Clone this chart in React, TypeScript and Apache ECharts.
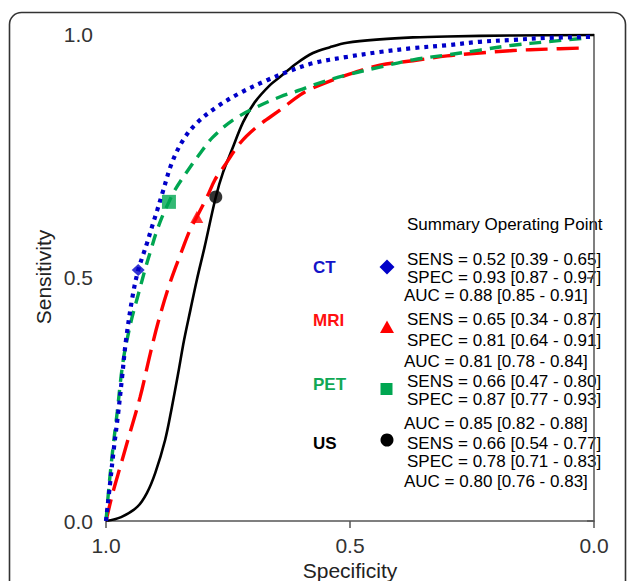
import React, { useEffect, useRef } from "react";
import * as echarts from "echarts";

// ---- Curve data (x = specificity, y = sensitivity) ----
const ctSpec = [1, 0.992, 0.984, 0.975, 0.967, 0.959, 0.945, 0.934, 0.924, 0.916, 0.906, 0.895, 0.885, 0.865, 0.842, 0.814, 0.773, 0.725, 0.67, 0.629, 0.576, 0.506, 0.439, 0.371, 0.301, 0.234, 0.166, 0.096, 0.008];
const ctSens = [0, 0.074, 0.148, 0.222, 0.296, 0.372, 0.465, 0.516, 0.547, 0.571, 0.604, 0.639, 0.672, 0.736, 0.783, 0.818, 0.851, 0.88, 0.906, 0.923, 0.941, 0.954, 0.964, 0.972, 0.978, 0.985, 0.989, 0.993, 0.995];

const mriSpec = [1, 0.986, 0.971, 0.951, 0.93, 0.91, 0.893, 0.869, 0.844, 0.828, 0.814, 0.793, 0.777, 0.76, 0.725, 0.691, 0.643, 0.602, 0.576, 0.506, 0.439, 0.371, 0.301, 0.234, 0.166, 0.096, 0.029];
const mriSens = [0, 0.058, 0.111, 0.181, 0.255, 0.341, 0.409, 0.489, 0.557, 0.598, 0.625, 0.666, 0.701, 0.726, 0.777, 0.81, 0.845, 0.876, 0.89, 0.917, 0.937, 0.946, 0.956, 0.962, 0.967, 0.97, 0.972];

const petSpec = [1, 0.994, 0.986, 0.977, 0.969, 0.963, 0.957, 0.947, 0.936, 0.926, 0.918, 0.908, 0.898, 0.885, 0.871, 0.859, 0.832, 0.807, 0.781, 0.74, 0.691, 0.643, 0.602, 0.576, 0.506, 0.439, 0.371, 0.301, 0.234, 0.166, 0.096, 0.014];
const petSens = [0, 0.07, 0.148, 0.224, 0.298, 0.341, 0.372, 0.417, 0.458, 0.495, 0.524, 0.557, 0.59, 0.625, 0.656, 0.68, 0.721, 0.756, 0.789, 0.824, 0.851, 0.872, 0.886, 0.896, 0.917, 0.933, 0.948, 0.958, 0.968, 0.978, 0.985, 0.993];

const usSpec = [1, 0.969, 0.936, 0.916, 0.899, 0.879, 0.865, 0.852, 0.84, 0.827, 0.814, 0.798, 0.775, 0.76, 0.742, 0.719, 0.695, 0.664, 0.643, 0.609, 0.576, 0.541, 0.506, 0.439, 0.371, 0.301, 0.166, 0.0];
const usSens = [0, 0.008, 0.029, 0.058, 0.099, 0.166, 0.234, 0.304, 0.372, 0.434, 0.495, 0.563, 0.666, 0.717, 0.763, 0.82, 0.861, 0.896, 0.913, 0.941, 0.962, 0.974, 0.983, 0.99, 0.994, 0.996, 0.998, 0.999];

// ---- Summary operating points (as plotted) ----
const pointSpec = [0.934, 0.814, 0.871, 0.775];
const pointSens = [0.516, 0.625, 0.656, 0.666];

// ---- Legend table ----
const modalities = ["CT", "MRI", "PET", "US"];
const sensVal = [0.52, 0.65, 0.66, 0.66];
const sensLo = [0.39, 0.34, 0.47, 0.54];
const sensHi = [0.65, 0.87, 0.8, 0.77];
const specVal = [0.93, 0.81, 0.87, 0.78];
const specLo = [0.87, 0.64, 0.77, 0.71];
const specHi = [0.97, 0.91, 0.93, 0.83];
const aucVal = [0.88, 0.81, 0.85, 0.8];
const aucLo = [0.85, 0.78, 0.82, 0.76];
const aucHi = [0.91, 0.84, 0.88, 0.83];
const yTicks = [0, 0.5, 1];

// ---- styles / layout ----
const FONT = '"Liberation Sans", Arial, Helvetica, sans-serif';
const colors = ["#0000c8", "#ff0000", "#00a651", "#000000"];
const textColors = ["#1414c8", "#ff1010", "#10a854", "#000000"];
const layout = [
  { label: 267, sym: 267, sens: 259, spec: 277, auc: 295 },
  { label: 320, sym: 327, sens: 319, spec: 340, auc: 361 },
  { label: 384, sym: 389, sens: 381, spec: 399, auc: 423 },
  { label: 443, sym: 440, sens: 443, spec: 461, auc: 481 },
];

const pair = (xs: number[], ys: number[]) => xs.map((x, i) => [x, ys[i]]);
const f2 = (v: number) => v.toFixed(2);
const ci = (name: string, v: number, lo: number, hi: number) =>
  `${name} = ${f2(v)} [${f2(lo)} - ${f2(hi)}]`;

function buildOption() {
  const axisLineStyle = { color: "#555", width: 1.5 };
  const axisLabel = {
    fontSize: 21,
    color: "#333",
    fontFamily: FONT,
    formatter: (v: number) => v.toFixed(1),
  };

  const lineSeries = [
    { name: "US", data: pair(usSpec, usSens), color: colors[3], type: "solid", width: 2.6 },
    { name: "MRI", data: pair(mriSpec, mriSens), color: colors[1], type: [22, 9], width: 3.4 },
    { name: "PET", data: pair(petSpec, petSens), color: colors[2], type: [12, 8], width: 3.4 },
    { name: "CT", data: pair(ctSpec, ctSens), color: colors[0], type: [4, 5], width: 4.2 },
  ].map((s) => ({
    type: "line",
    name: s.name,
    data: s.data,
    smooth: 0.35,
    showSymbol: false,
    symbol: "none",
    lineStyle: { color: s.color, width: s.width, type: s.type, cap: "butt" },
    z: 2,
  }));

  const symbols = ["diamond", "triangle", "rect", "circle"];
  const sizes: any[] = [[13, 12], [13, 12], 14, 13];
  const scatterSeries = modalities.map((m, i) => ({
    type: "scatter",
    name: m + " point",
    data: [[pointSpec[i], pointSens[i]]],
    symbol: symbols[i],
    symbolSize: sizes[i],
    itemStyle: { color: colors[i] },
    z: 5,
  }));

  const graphics: any[] = [
    {
      type: "rect",
      shape: { x: 9.5, y: 12.5, width: 616, height: 640, r: 12 },
      style: { fill: "none", stroke: "#333", lineWidth: 1.6 },
      silent: true,
      z: -10,
    },
    {
      type: "text",
      x: 350,
      y: 570,
      style: { text: "Specificity", fontSize: 21, fontFamily: FONT, fill: "#222", align: "center", verticalAlign: "middle" },
    },
    {
      type: "text",
      x: 43,
      y: 277,
      rotation: Math.PI / 2,
      style: { text: "Sensitivity", fontSize: 21, fontFamily: FONT, fill: "#222", align: "center", verticalAlign: "middle" },
    },
    {
      type: "text",
      x: 407,
      y: 224,
      style: { text: "Summary Operating Point", fontSize: 17, fontFamily: FONT, fill: "#000", align: "left", verticalAlign: "middle" },
    },
  ];

  modalities.forEach((m, i) => {
    const L = layout[i];
    graphics.push({
      type: "text",
      x: 313,
      y: L.label,
      style: { text: m, fontSize: 17, fontWeight: "bold", fontFamily: FONT, fill: textColors[i], align: "left", verticalAlign: "middle" },
    });
    const lines = [
      { t: ci("SENS", sensVal[i], sensLo[i], sensHi[i]), y: L.sens, x: 407 },
      { t: ci("SPEC", specVal[i], specLo[i], specHi[i]), y: L.spec, x: 407 },
      { t: ci("AUC", aucVal[i], aucLo[i], aucHi[i]), y: L.auc, x: 404 },
    ];
    lines.forEach((ln) =>
      graphics.push({
        type: "text",
        x: ln.x,
        y: ln.y,
        style: { text: ln.t, fontSize: 17, fontFamily: FONT, fill: "#000", align: "left", verticalAlign: "middle" },
      })
    );
    const cx = 387;
    const cy = L.sym;
    if (i === 0) {
      graphics.push({ type: "polygon", shape: { points: [[cx, cy - 7.5], [cx + 7.5, cy], [cx, cy + 7.5], [cx - 7.5, cy]] }, style: { fill: colors[0] } });
    } else if (i === 1) {
      graphics.push({ type: "polygon", shape: { points: [[cx, cy - 6.5], [cx + 7, cy + 6], [cx - 7, cy + 6]] }, style: { fill: colors[1] } });
    } else if (i === 2) {
      graphics.push({ type: "rect", shape: { x: cx - 6.5, y: cy - 6, width: 12, height: 12 }, style: { fill: colors[2] } });
    } else {
      graphics.push({ type: "circle", shape: { cx, cy, r: 6.5 }, style: { fill: colors[3] } });
    }
  });

  return {
    animation: false,
    backgroundColor: "#fff",
    textStyle: { fontFamily: FONT },
    grid: { left: 106, right: 33, top: 34.5, bottom: 60, containLabel: false },
    xAxis: {
      type: "value",
      min: 0,
      max: 1,
      interval: 0.5,
      inverse: true,
      axisLine: { show: true, lineStyle: axisLineStyle },
      axisTick: { show: true, length: 7, lineStyle: axisLineStyle },
      axisLabel: { ...axisLabel, margin: 14 },
      splitLine: { show: false },
    },
    yAxis: {
      type: "value",
      min: yTicks[0],
      max: yTicks[yTicks.length - 1],
      interval: 0.5,
      axisLine: { show: true, lineStyle: axisLineStyle },
      axisTick: { show: true, length: 7, lineStyle: axisLineStyle },
      axisLabel: { ...axisLabel, margin: 13 },
      splitLine: { show: false },
    },
    series: [...lineSeries, ...scatterSeries],
    graphic: graphics,
  };
}

export default function App() {
  const ref = useRef<HTMLDivElement>(null);
  useEffect(() => {
    document.body.style.margin = "0";
    const chart = echarts.init(ref.current as HTMLDivElement, null, { renderer: "svg" });
    chart.setOption(buildOption() as any);
    return () => chart.dispose();
  }, []);
  return (
    <div
      ref={ref}
      style={{ position: "fixed", left: 0, top: 0, width: 627, height: 581, background: "#fff" }}
    />
  );
}
